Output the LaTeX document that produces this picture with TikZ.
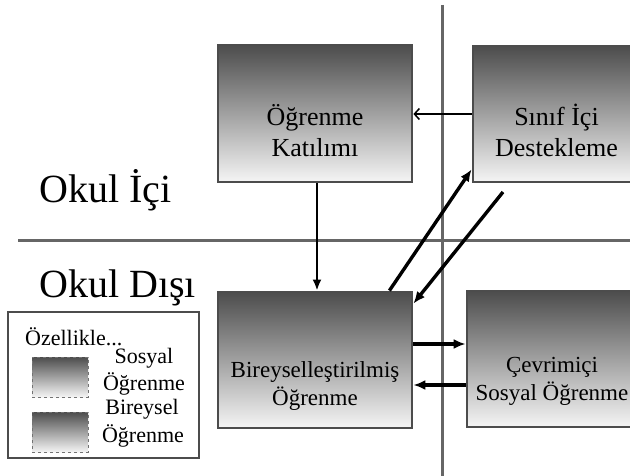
\documentclass[tikz,border=0pt]{standalone}
\usepackage{fontspec}
\setmainfont{Liberation Serif}
\usetikzlibrary{arrows.meta,calc}
\begin{document}
\begin{tikzpicture}[x=1pt,y=-1pt,
  divider/.style={draw=black!60,line width=3pt},
  gbox/.style={rectangle,draw=black!70,line width=2.8pt,top color=black!70,bottom color=black!4,inner sep=0pt},
  btext/.style={font=\fontsize{23}{28}\selectfont,align=center,anchor=base,inner sep=0pt},
  btextl/.style={font=\fontsize{26}{31}\selectfont,align=center,anchor=base,inner sep=0pt},
  big/.style={font=\fontsize{40}{48}\selectfont,anchor=base west,inner sep=0pt},
  ltext/.style={font=\fontsize{22}{27}\selectfont,anchor=base,inner sep=0pt},
  heavyarrow/.style={line width=3.4pt,-{Latex[length=12pt,width=10pt]}},
  lightarrow/.style={line width=1.5pt,-{Straight Barb[length=5pt,width=11pt,line width=1.5pt]}}]
\path[use as bounding box,clip] (0,0) rectangle (630,476);
\fill[white] (0,0) rectangle (630,476);
% dividers
\coordinate (vtop) at (442,5);
\coordinate (vbot) at (442,476);
\coordinate (hl) at (18,241);
\coordinate (hr) at (630,241);
\draw[divider] (vtop) -- (vbot);
\draw[divider] (hl) -- (hr);
% labels
\node[big] (ici) at (39,203) {Okul İçi};
\node[big] (disi) at (39,298) {Okul Dışı};
% boxes
\node[gbox,minimum width=194pt,minimum height=137pt] (b1) at (315,113.5) {};
\node[gbox,minimum width=167pt,minimum height=136pt] (b2) at (556.5,114) {};
\node[gbox,minimum width=194pt,minimum height=136pt] (b3) at (315,360) {};
\node[gbox,minimum width=170pt,minimum height=136pt] (b4) at (552,359) {};
\node[btextl] (t1) at ($(b1.north)+(0,113)$) {Öğrenme\\Katılımı};
\node[btextl] (t2) at ($(b2.north)+(0,112)$) {Sınıf İçi\\Destekleme};
\node[btext] (t3) at ($(b3.north)+(0,115)$) {Bireyselleştirilmiş\\Öğrenme};
\node[btext] (t4) at ($(b4.north)+(0,111)$) {Çevrimiçi\\Sosyal Öğrenme};
% arrows
\draw[line width=2.6pt,-{Latex[length=11pt,width=9pt]}] ($(b1.south)+(2,0)$) -- ($(b3.north)+(2,0)$);
\draw[lightarrow] (b2.west) -- (b2.west -| b1.east);
\coordinate (d1s) at ($(b3.north east)+(-24,0)$);
\coordinate (d1e) at ($(b2.south west)+(0,-14)$);
\draw[heavyarrow] (d1s) -- (d1e);
\coordinate (fs) at (503,192);
\coordinate (d2e) at ($(b3.north east)+(0,13)$);
\draw[heavyarrow] (fs) -- (d2e);
\coordinate (h1s) at ($(b3.east)+(0,-16)$);
\coordinate (h1e) at (h1s -| b4.west);
\draw[heavyarrow] (h1s) -- (h1e);
\coordinate (h2s) at ($(b4.west)+(0,26)$);
\coordinate (h2e) at (h2s -| b3.east);
\draw[heavyarrow] (h2s) -- (h2e);
% legend
\node[rectangle,draw=black!70,line width=2.8pt,minimum width=191pt,minimum height=146pt,inner sep=0pt] (leg) at (103.5,385) {};
\node[ltext,anchor=base west] (lt) at (25,345) {Özellikle...};
\node[rectangle,draw=black!55,line width=0.8pt,dashed,top color=black!70,bottom color=black!4,minimum width=56pt,minimum height=40pt,inner sep=0pt] (s1) at (60,377) {};
\node[rectangle,draw=black!55,line width=0.8pt,dashed,top color=black!70,bottom color=black!4,minimum width=56pt,minimum height=40pt,inner sep=0pt] (s2) at (60,432) {};
\node[ltext] (l1) at (144,363) {Sosyal};
\node[ltext] (l2) at (144,390) {Öğrenme};
\node[ltext] (l3) at (142,414) {Bireysel};
\node[ltext] (l4) at (143,442) {Öğrenme};
\end{tikzpicture}
\end{document}
